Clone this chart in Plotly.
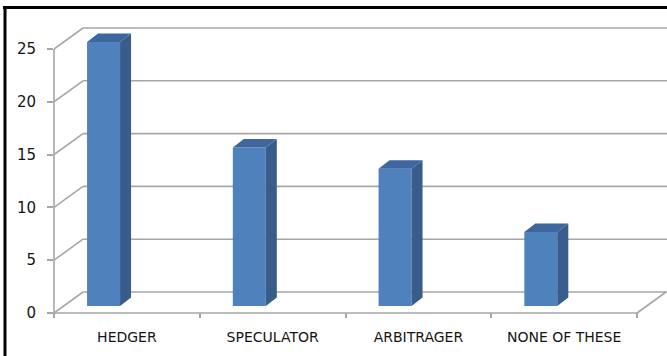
import plotly.graph_objects as go

# ---- data ----
categories = ["HEDGER", "SPECULATOR", "ARBITRAGER", "NONE OF THESE"]
values = [25, 15, 13, 7]
y_ticks = [0, 5, 10, 15, 20, 25]

# ---- pseudo-3D projection style constants (axis units) ----
W, H = 667, 356
X_LEFT_PX, X_UNIT_PX = 54, 145.75
Y_ZERO_PX, Y_UNIT_PX = 313, 10.56
PLOT_BOTTOM_PX = 318
wall_dx, wall_dy = 29 / X_UNIT_PX, 21 / Y_UNIT_PX
bar_base = 7 / Y_UNIT_PX
bar_width = 33 / X_UNIT_PX
bar_offset = -0.16 - bar_width / 2
bar_dx, bar_dy = 11 / X_UNIT_PX, 8.5 / Y_UNIT_PX

FRONT = "#4F81BD"
SIDE = "#385D8A"
TOP = "#3D679E"
GRID = "#A6A6A6"

xs = list(range(len(categories)))
x_min = -0.5
x_max = -0.5 + (W - X_LEFT_PX) / X_UNIT_PX
y_min = -(PLOT_BOTTOM_PX - Y_ZERO_PX) / Y_UNIT_PX
y_max = Y_ZERO_PX / Y_UNIT_PX
x_end = len(categories) - 0.5

fig = go.Figure()

# front faces
fig.add_trace(go.Bar(
    x=xs, y=values, base=bar_base, width=bar_width, offset=bar_offset,
    marker=dict(color=FRONT, line=dict(width=0)), hoverinfo="skip",
    showlegend=False,
))

# side faces and top faces computed from the values
sx, sy, tx, ty = [], [], [], []
for xi, v in zip(xs, values):
    xl = xi + bar_offset
    xr = xl + bar_width
    b0 = bar_base
    b1 = bar_base + v
    sx += [xr, xr, xr + bar_dx, xr + bar_dx, xr, None]
    sy += [b0, b1, b1 + bar_dy, b0 + bar_dy, b0, None]
    tx += [xl, xr, xr + bar_dx, xl + bar_dx, xl, None]
    ty += [b1, b1, b1 + bar_dy, b1 + bar_dy, b1, None]

fig.add_trace(go.Scatter(x=sx, y=sy, fill="toself", fillcolor=SIDE, mode="lines",
                         line=dict(width=0, color=SIDE), hoverinfo="skip", showlegend=False))
fig.add_trace(go.Scatter(x=tx, y=ty, fill="toself", fillcolor=TOP, mode="lines",
                         line=dict(width=0, color=TOP), hoverinfo="skip", showlegend=False))

shapes = []
gl = dict(color=GRID, width=1.6)
# back wall gridlines + side wall diagonals
for v in y_ticks:
    shapes.append(dict(type="line", xref="x", yref="y", x0=-0.5, y0=v,
                       x1=-0.5 + wall_dx, y1=v + wall_dy, line=gl, layer="below"))
    shapes.append(dict(type="line", xref="x", yref="y", x0=-0.5 + wall_dx, y0=v + wall_dy,
                       x1=x_max + 1, y1=v + wall_dy, line=gl, layer="below"))
# floor front line and right diagonal
shapes.append(dict(type="line", xref="x", yref="y", x0=-0.5, y0=0, x1=x_end, y1=0,
                   line=gl, layer="below"))
shapes.append(dict(type="line", xref="x", yref="y", x0=x_end, y0=0, x1=x_end + wall_dx,
                   y1=wall_dy, line=gl, layer="below"))
# vertical value axis line
shapes.append(dict(type="line", xref="paper", yref="y", x0=X_LEFT_PX / W, x1=X_LEFT_PX / W,
                   y0=0, y1=max(y_ticks), line=gl, layer="below"))
# black frame (top and left)
shapes.append(dict(type="line", xref="paper", yref="paper", x0=3 / W, x1=1.0,
                   y0=1 - 7.5 / H, y1=1 - 7.5 / H, line=dict(color="black", width=3)))
shapes.append(dict(type="line", xref="paper", yref="paper", x0=5 / W, x1=5 / W,
                   y0=1 - 6 / H, y1=0, line=dict(color="black", width=3)))

fig.update_layout(
    width=W, height=H, autosize=False,
    margin=dict(l=0, r=0, t=0, b=0, pad=0),
    paper_bgcolor="white", plot_bgcolor="white",
    shapes=shapes,
    showlegend=False,
    xaxis=dict(
        domain=[X_LEFT_PX / W, 1], range=[x_min, x_max], type="linear",
        automargin=False,
        tickmode="array", tickvals=xs, ticktext=categories,
        ticks="", showgrid=False, zeroline=False, showline=False,
        tickfont=dict(family="DejaVu Sans", size=14, color="#141414"),
        ticklabelstandoff=9,
        minor=dict(tickmode="array", tickvals=[i - 0.5 for i in range(len(categories) + 1)],
                   ticks="inside", ticklen=5, tickwidth=1.6, tickcolor=GRID, showgrid=False),
        fixedrange=True,
    ),
    yaxis=dict(
        domain=[1 - PLOT_BOTTOM_PX / H, 1], range=[y_min, y_max],
        automargin=False,
        tickmode="array", tickvals=y_ticks,
        ticks="outside", ticklen=6, tickwidth=1.6, tickcolor=GRID,
        showgrid=False, zeroline=False, showline=False,
        tickfont=dict(family="DejaVu Sans", size=15, color="#141414"),
        ticklabelstandoff=8,
        fixedrange=True,
    ),
)

fig.write_html("out.html")
